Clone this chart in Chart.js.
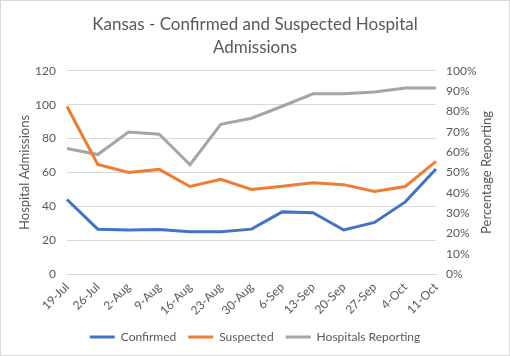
<!DOCTYPE html>
<html>
<head>
<meta charset="utf-8">
<script src="https://cdn.jsdelivr.net/npm/chart.js@4/dist/chart.umd.min.js"></script>
<style>
  html, body { margin: 0; padding: 0; background: #ffffff; }
  #wrap { width: 510px; height: 356px; position: relative; }
</style>
</head>
<body>
<div id="wrap"><canvas id="c" width="510" height="356"></canvas></div>
<script>
const categories = ["19-Jul","26-Jul","2-Aug","9-Aug","16-Aug","23-Aug","30-Aug","6-Sep","13-Sep","20-Sep","27-Sep","4-Oct","11-Oct"];
const confirmed = [44, 26.5, 26, 26.3, 25, 25, 26.5, 36.7, 36.2, 26, 30.5, 42.6, 62];
const suspected = [99, 64.7, 60, 61.8, 51.7, 55.9, 50, 51.8, 53.9, 52.8, 48.7, 51.7, 66.5];
const hospitalsReporting = [61.8, 58.8, 69.9, 68.8, 53.8, 73.7, 76.7, 82.6, 88.7, 88.7, 89.6, 91.6, 91.6];
const leftTicks = [0, 20, 40, 60, 80, 100, 120];
const rightTicks = [0, 10, 20, 30, 40, 50, 60, 70, 80, 90, 100];
const titleLines = ["Kansas - Confirmed and Suspected Hospital", "Admissions"];
const leftAxisTitle = "Hospital Admissions";
const rightAxisTitle = "Percentage Reporting";

const FONT = "Lato, sans-serif";
const GREY_TEXT = "#595959";

const borderPlugin = {
  id: 'frame',
  beforeDraw(chart) {
    const ctx = chart.ctx;
    ctx.save();
    ctx.fillStyle = '#ffffff';
    ctx.fillRect(0, 0, chart.width, chart.height);
    ctx.restore();
  },
  afterDraw(chart) {
    const ctx = chart.ctx;
    ctx.save();
    ctx.strokeStyle = '#d9d9d9';
    ctx.lineWidth = 1;
    ctx.strokeRect(0.5, 0.5, chart.width - 1, chart.height - 1);
    // right axis title, reading bottom-to-top like Excel
    const ya = chart.scales.y1;
    ctx.fillStyle = GREY_TEXT;
    ctx.font = "13px " + FONT;
    ctx.textAlign = 'center';
    ctx.textBaseline = 'middle';
    ctx.translate(487, (ya.top + ya.bottom) / 2);
    ctx.rotate(-Math.PI / 2);
    ctx.fillText(rightAxisTitle, 0, 0);
    ctx.restore();
  }
};

new Chart(document.getElementById('c'), {
  type: 'line',
  data: {
    labels: categories,
    datasets: [
      { label: 'Confirmed', data: confirmed, borderColor: '#4472C4', backgroundColor: '#4472C4', borderWidth: 3, pointRadius: 0, yAxisID: 'y', tension: 0 },
      { label: 'Suspected', data: suspected, borderColor: '#ED7D31', backgroundColor: '#ED7D31', borderWidth: 3, pointRadius: 0, yAxisID: 'y', tension: 0 },
      { label: 'Hospitals Reporting', data: hospitalsReporting, borderColor: '#A5A5A5', backgroundColor: '#A5A5A5', borderWidth: 3, pointRadius: 0, yAxisID: 'y1', tension: 0 }
    ]
  },
  options: {
    responsive: false,
    animation: false,
    devicePixelRatio: 1,
    layout: { padding: { left: 0, right: 0, top: 0, bottom: 3 } },
    plugins: {
      title: {
        display: true,
        text: titleLines,
        color: GREY_TEXT,
        font: { family: FONT, size: 17, weight: 'normal', lineHeight: 1.35 },
        padding: { top: 13, bottom: 12 }
      },
      legend: {
        position: 'bottom',
        labels: {
          usePointStyle: true,
          pointStyleWidth: 25,
          pointStyle: 'line',
          color: GREY_TEXT,
          font: { family: FONT, size: 12 },
          padding: 12
        }
      },
      tooltip: { enabled: false }
    },
    scales: {
      x: {
        offset: false,
        grid: { display: false, drawTicks: false },
        border: { display: true, color: '#d9d9d9' },
        ticks: { color: GREY_TEXT, font: { family: FONT, size: 12 }, maxRotation: 45, minRotation: 45, autoSkip: false, padding: 6 },
        afterFit(s) { s.height = 45; }
      },
      y: {
        position: 'left',
        min: 0, max: 120,
        afterBuildTicks(s) { s.ticks = leftTicks.map(v => ({ value: v })); },
        grid: { color: '#d9d9d9', drawTicks: false },
        border: { display: false },
        ticks: { color: GREY_TEXT, font: { family: FONT, size: 12 }, padding: 11 },
        title: { display: true, text: leftAxisTitle, color: GREY_TEXT, font: { family: FONT, size: 13 }, padding: { top: 17, bottom: 0 } },
        afterFit(s) { s.width = 67; }
      },
      y1: {
        position: 'right',
        min: 0, max: 100,
        afterBuildTicks(s) { s.ticks = rightTicks.map(v => ({ value: v })); },
        grid: { display: false, drawTicks: false },
        border: { display: false },
        ticks: { color: GREY_TEXT, font: { family: FONT, size: 12 }, padding: 10, callback: v => v + '%' },
        afterFit(s) { s.width = 74; }
      }
    }
  },
  plugins: [borderPlugin]
});
</script>
</body>
</html>
